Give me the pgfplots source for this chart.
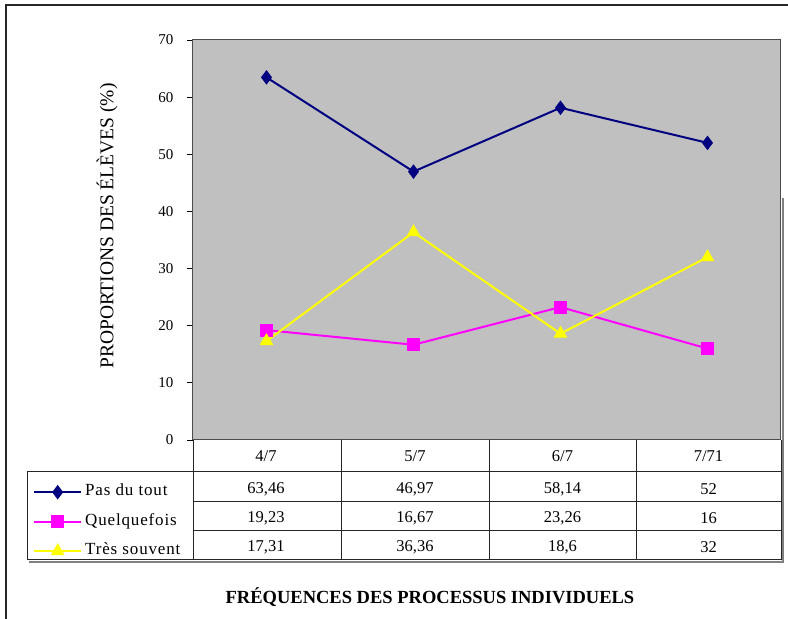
\documentclass[border=0pt]{standalone}
\usepackage{fontspec}
\setmainfont{Liberation Serif}
\newfontfamily\legfont{Liberation Serif}[LetterSpace=5]
\usepackage{pgfplots}
\pgfplotsset{compat=1.18}
\definecolor{plotgray}{HTML}{C0C0C0}
\definecolor{sernavy}{HTML}{000080}
\definecolor{sermag}{HTML}{FF00FF}
\definecolor{seryel}{HTML}{FFFF00}
\newcommand{\tf}{\fontsize{15}{15}\selectfont}
\newcommand{\nf}{\fontsize{16.5}{16.5}\selectfont}
\newcommand{\lf}{\legfont\fontsize{17}{17}\selectfont}
\begin{document}
\begin{tikzpicture}[x=1pt,y=1pt]
\path[use as bounding box] (0,0) rectangle (788,619);
\draw[line width=2pt, black!85] (6,0) -- (6,614) -- (788,614);
% shadows
\draw[line width=1.5pt, gray] (783,421) -- (783,57) -- (29,57);
\begin{axis}[
  at={(193pt,179pt)}, anchor=south west, scale only axis,
  width=588pt, height=400pt,
  xmin=0, xmax=4, ymin=0, ymax=70,
  ytick={0,10,...,70}, xtick=\empty, ytick pos=left,
  axis background/.style={fill=plotgray},
  axis line style={draw=gray!60!black, line width=1pt},
  tick align=outside, major tick length=6pt,
  ytick style={black, line width=0.8pt},
  /pgf/number format/assume math mode=true,
  yticklabel style={font=\tf, xshift=-10pt},
  ylabel={PROPORTIONS DES ÉLÈVES (\%)},
  ylabel style={font=\fontsize{19.5}{20}\selectfont, at={(axis description cs:-0.146,0.535)}, anchor=center},
  legend style={at={(axis description cs:-0.2721,-0.1125)}, anchor=north west,
    draw=none, fill=none, inner sep=0pt, row sep=15.5pt, column sep=3pt,
    nodes={inner sep=0pt, text height=10.5pt, text depth=3.5pt, font=\lf}},
  legend cell align=left,
  legend image code/.code={\draw[mark repeat=2,mark phase=2] plot coordinates {(0pt,0pt)(23.5pt,0pt)(47pt,0pt)};},
]
\addplot[sernavy, line width=2pt, mark=diamond*, mark size=6.5pt, mark options={fill=sernavy, solid, line width=1pt}]
  coordinates {(0.5,63.46) (1.5,46.97) (2.5,58.14) (3.5,52)};
\addlegendentry{Pas du tout}
\addplot[sermag, line width=2pt, mark=square*, mark size=6pt, mark options={fill=sermag, solid, line width=1pt}]
  coordinates {(0.5,19.23) (1.5,16.67) (2.5,23.26) (3.5,16)};
\addlegendentry{Quelquefois}
\addplot[seryel, line width=2pt, mark=triangle*, mark size=7pt, mark options={fill=seryel, solid, line width=1pt}]
  coordinates {(0.5,17.31) (1.5,36.36) (2.5,18.6) (3.5,32)};
\addlegendentry{Très souvent}
\end{axis}
% table grid
\begin{scope}[line width=1pt, black!85]
\draw (27,147) -- (781,147);
\draw (193,117) -- (781,117);
\draw (193,88) -- (781,88);
\draw (27,59) -- (781,59);
\draw (27,147) -- (27,59);
\foreach \xx in {193,341,489,636,781} \draw (\xx,179) -- (\xx,59);
\end{scope}
% header
\foreach \xx/\lab in {266/4\slash 7, 415/5\slash 7, 562.5/6\slash 7, 708.5/7\slash 71}
  \node[font=\nf] at (\xx,163) {\lab};
% values
\node[font=\nf] at (266,130) {63,46};
\node[font=\nf] at (415,130) {46,97};
\node[font=\nf] at (562.5,130) {58,14};
\node[font=\nf] at (708.5,130) {52};
\node[font=\nf] at (266,100.5) {19,23};
\node[font=\nf] at (415,100.5) {16,67};
\node[font=\nf] at (562.5,100.5) {23,26};
\node[font=\nf] at (708.5,100.5) {16};
\node[font=\nf] at (266,71.5) {17,31};
\node[font=\nf] at (415,71.5) {36,36};
\node[font=\nf] at (562.5,71.5) {18,6};
\node[font=\nf] at (708.5,71.5) {32};
\node[font=\fontsize{18.5}{19}\selectfont\bfseries] at (430,22) {FRÉQUENCES DES PROCESSUS INDIVIDUELS};
\end{tikzpicture}
\end{document}
